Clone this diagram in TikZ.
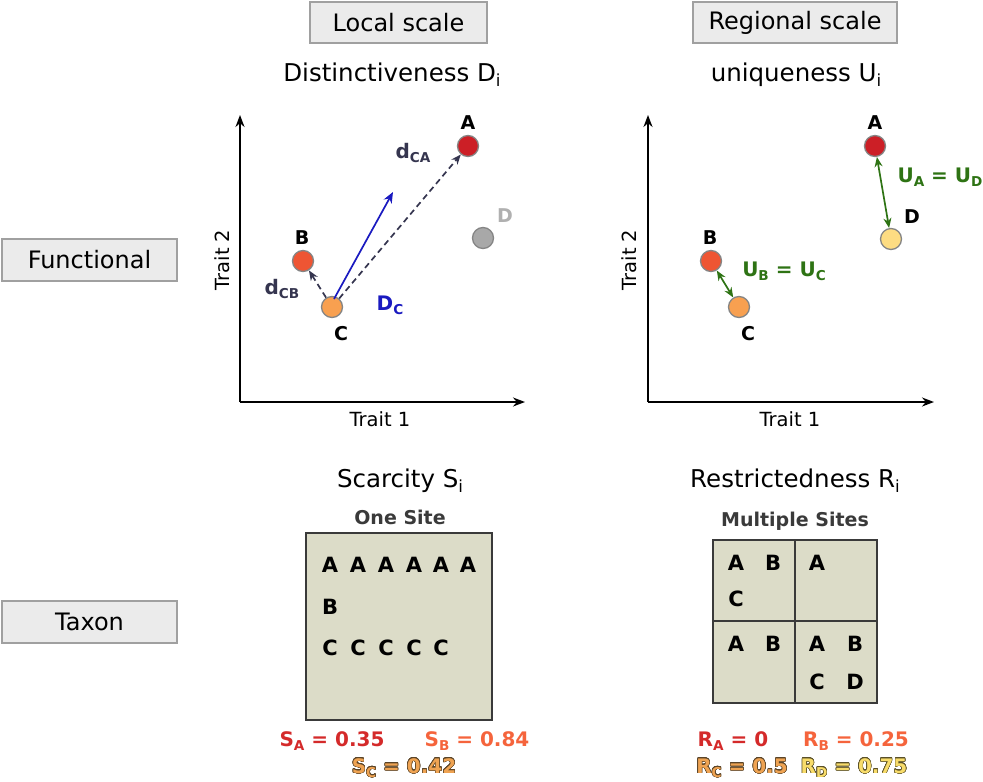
\documentclass[tikz,border=0pt]{standalone}
\usepackage{fontspec}
\setmainfont{DejaVu Sans}
\usepackage{graphicx}
\usepackage[copies]{contour}
\usetikzlibrary{arrows.meta}
\contourlength{0.45pt}
\contournumber{24}
\definecolor{boxfill}{HTML}{EBEBEB}
\definecolor{boxline}{HTML}{A0A0A0}
\definecolor{ptline}{HTML}{858585}
\definecolor{cA}{HTML}{CC1F26}
\definecolor{cB}{HTML}{EE5533}
\definecolor{cC}{HTML}{F8A050}
\definecolor{cDg}{HTML}{A8A8A8}
\definecolor{cDy}{HTML}{FDDC82}
\definecolor{labD}{HTML}{B0B0B0}
\definecolor{navy}{HTML}{35354F}
\definecolor{dblue}{HTML}{1A1AC0}
\definecolor{dgreen}{HTML}{2E7314}
\definecolor{site}{HTML}{DCDCC8}
\definecolor{siteline}{HTML}{3A3A3A}
\definecolor{sA}{HTML}{D42A2A}
\definecolor{sB}{HTML}{F5643C}
\definecolor{sCf}{HTML}{EFA352}
\definecolor{sCl}{HTML}{5A4428}
\definecolor{sDf}{HTML}{F8DC6A}
\definecolor{sDl}{HTML}{5A5028}
\newcommand\subs[1]{\raisebox{-0.35ex}{\scalebox{0.68}{#1}}}
\newcommand\fsz[1]{\fontsize{#1}{#1}\selectfont}
\tikzset{
  hdr/.style={draw=boxline, fill=boxfill, line width=1.5pt, font=\fsz{24}, inner sep=0pt, minimum height=41pt},
  ttl/.style={font=\fsz{24.5}, inner sep=0pt},
  pt/.style={circle, draw=ptline, line width=1.3pt, minimum size=21pt, inner sep=0pt},
  lbl/.style={font=\fsz{19}\bfseries, inner sep=0pt},
  tlab/.style={font=\fsz{19.5}, inner sep=0pt},
  axis/.style={line width=1.8pt, -{Stealth[length=12pt,width=9pt]}},
  darr/.style={navy, line width=1.7pt, dash pattern=on 6pt off 4pt, -{Stealth[length=10pt,width=8pt]}},
  barr/.style={dblue, line width=1.7pt, -{Stealth[length=11pt,width=9pt]}},
  garr/.style={dgreen, line width=1.7pt, {Stealth[length=10pt,width=8pt]}-{Stealth[length=10pt,width=8pt]}},
  dlab/.style={font=\fsz{20}\bfseries, inner sep=0pt},
  glet/.style={font=\fsz{21}\bfseries, inner sep=0pt},
  sitettl/.style={font=\fsz{19}\bfseries, text=siteline, inner sep=0pt},
  val/.style={font=\fsz{20}\bfseries, inner sep=0pt}
}
\begin{document}
\begin{tikzpicture}[x=1pt,y=-1pt]
\useasboundingbox (0,0) rectangle (983,782);
% headers
\node[hdr, minimum width=177pt] (local) at (398.5,22.5) {Local scale};
\node[hdr, minimum width=204pt] (regional) at (795,22.5) {Regional scale};
\node[hdr, minimum width=175pt, minimum height=42pt] (functional) at (89.5,260) {Functional};
\node[hdr, minimum width=175pt, minimum height=42pt] (taxon) at (89.5,622) {Taxon};
% titles
\node[ttl] (tD) at (392,75) {Distinctiveness D\subs{i}};
\node[ttl] (tU) at (796,75) {uniqueness U\subs{i}};
\node[ttl] (tS) at (400,481) {Scarcity S\subs{i}};
\node[ttl] (tR) at (795,481) {Restrictedness R\subs{i}};
% left plot
\coordinate (o1) at (240,402);
\coordinate (y1) at (240,115);
\coordinate (x1) at (525,402);
\draw[axis] (o1) -- (y1);
\draw[axis] (o1) -- (x1);
\node[tlab, rotate=90] (tr2a) at (222,260) {Trait 2};
\node[tlab] (tr1a) at (380,419) {Trait 1};
\node[pt, fill=cA] (A1) at (468,146) {};
\node[pt, fill=cB] (B1) at (303,261) {};
\node[pt, fill=cC] (C1) at (332,307) {};
\node[pt, fill=cDg] (D1) at (483,238) {};
\node[lbl] (lA1) at (468,123) {A};
\node[lbl] (lB1) at (302,238) {B};
\node[lbl] (lC1) at (341,334) {C};
\node[lbl, text=labD] (lD1) at (505,216) {D};
\draw[darr] (C1) -- (A1);
\draw[darr] (C1) -- (B1);
\coordinate (dc) at (393,192);
\coordinate (cs) at (334,299);
\draw[barr] (cs) -- (dc);
\node[dlab, text=navy] (dCA) at (413,153) {d\subs{CA}};
\node[dlab, text=navy] (dCB) at (282,289) {d\subs{CB}};
\node[dlab, text=dblue] (DC) at (390,305) {D\subs{C}};
% right plot
\coordinate (o2) at (648,402);
\coordinate (y2) at (648,115);
\coordinate (x2) at (934,402);
\draw[axis] (o2) -- (y2);
\draw[axis] (o2) -- (x2);
\node[tlab, rotate=90] (tr2b) at (629,260) {Trait 2};
\node[tlab] (tr1b) at (790,419) {Trait 1};
\node[pt, fill=cA] (A2) at (875,146) {};
\node[pt, fill=cB] (B2) at (711,261) {};
\node[pt, fill=cC] (C2) at (739,307) {};
\node[pt, fill=cDy] (D2) at (891,239) {};
\node[lbl] (lA2) at (875,123) {A};
\node[lbl] (lB2) at (710,238) {B};
\node[lbl] (lC2) at (748,334) {C};
\node[lbl] (lD2) at (912,217) {D};
\draw[garr] (A2) -- (D2);
\draw[garr] (B2) -- (C2);
\node[dlab, text=dgreen] (UAD) at (940,177) {U\subs{A} = U\subs{D}};
\node[dlab, text=dgreen] (UBC) at (784,271) {U\subs{B} = U\subs{C}};
% one site
\node[sitettl] (one) at (400,517) {One Site};
\draw[fill=site, draw=siteline, line width=2pt] (306,533) rectangle (492,720);
\foreach \x/\n in {330/1,358/2,386/3,414/4,441/5,468/6}
  \node[glet] (ra\n) at (\x,565) {A};
\node[glet] (rb1) at (330,607) {B};
\foreach \x/\n in {330/1,358/2,386/3,414/4,441/5}
  \node[glet] (rc\n) at (\x,648) {C};
% multiple sites
\node[sitettl] (mult) at (795,521) {Multiple Sites};
\draw[fill=site, draw=siteline, line width=1.3pt] (713,540) rectangle (877,703);
\draw[draw=siteline, line width=1.3pt] (795,540) -- (795,703);
\draw[draw=siteline, line width=1.3pt] (713,621) -- (877,621);
\node[glet] (m1a) at (736,563) {A};
\node[glet] (m1b) at (773,563) {B};
\node[glet] (m1c) at (736,599) {C};
\node[glet] (m2a) at (817,563) {A};
\node[glet] (m3a) at (736,644) {A};
\node[glet] (m3b) at (773,644) {B};
\node[glet] (m4a) at (817,644) {A};
\node[glet] (m4b) at (855,644) {B};
\node[glet] (m4c) at (817,682) {C};
\node[glet] (m4d) at (855,682) {D};
% values
\node[val, text=sA] (SA) at (332,741) {S\subs{A} = 0.35};
\node[val, text=sB] (SB) at (477,741) {S\subs{B} = 0.84};
\node[val, text=sCf] (SC) at (404,768) {\contour{sCl}{S\subs{C} = 0.42}};
\node[val, text=sA] (RA) at (733,741) {R\subs{A} = 0};
\node[val, text=sB] (RB) at (856,741) {R\subs{B} = 0.25};
\node[val, text=sCf] (RC) at (742,768) {\contour{sCl}{R\subs{C} = 0.5}};
\node[val, text=sDf] (RD) at (854,768) {\contour{sDl}{R\subs{D} = 0.75}};
\end{tikzpicture}
\end{document}
